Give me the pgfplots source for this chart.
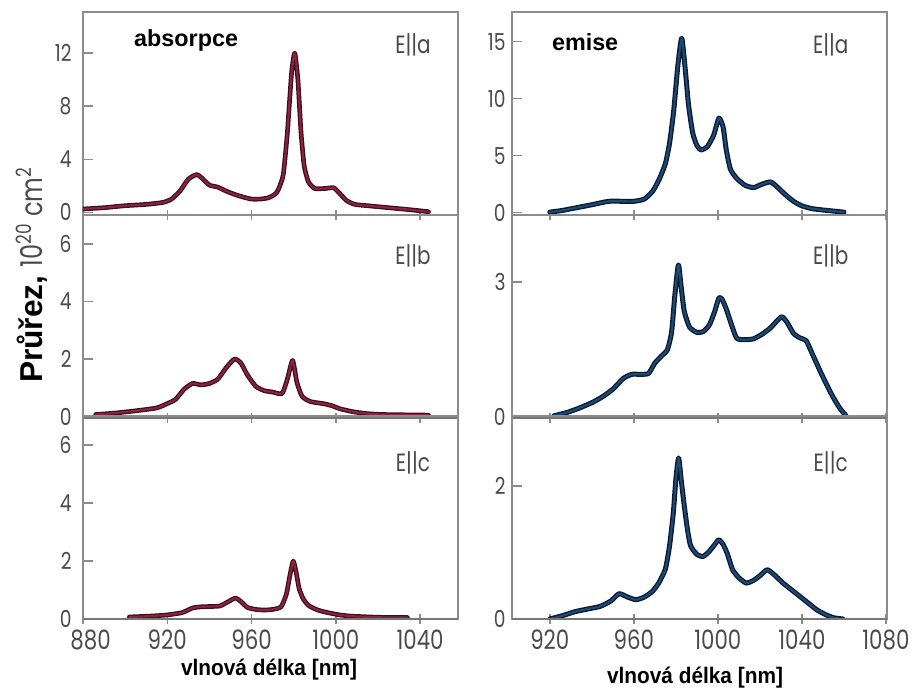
\documentclass[border=0pt]{standalone}
\usepackage{fontspec}
\usepackage{pgfplots}
\usepackage{pgfplotstable}
\pgfplotsset{compat=1.18}
\newfontfamily\lightfont{Poppins}[FakeStretch=0.8]
\newfontfamily\labfont{Liberation Sans}

\definecolor{abscol}{HTML}{8A2240}
\definecolor{absdark}{HTML}{3A0E1C}
\definecolor{emcol}{HTML}{1F4A78}
\definecolor{emdark}{HTML}{0A1B30}
\definecolor{framec}{HTML}{8C8C8C}
\definecolor{ticktext}{HTML}{4A4A4A}

% absorpce
\pgfplotstableread{
x y
880 0.25
890 0.35
900 0.5
910 0.6
918 0.75
922 1.0
926 1.6
930 2.5
934 2.85
937 2.5
940 2.05
944 1.9
948 1.6
952 1.35
956 1.15
960 1.0
964 1.0
968 1.1
972 1.5
975 2.8
977 6.0
979 10.5
980.5 12.0
982 10.0
983.5 6.0
985 3.5
987 2.3
990 1.8
995 1.8
999 1.85
1002 1.4
1005 0.9
1009 0.6
1015 0.5
1025 0.35
1035 0.2
1044 0.05
}\absA
\pgfplotstableread{
x y
886 0.07
895 0.12
905 0.2
915 0.3
920 0.45
924 0.6
928 0.95
932 1.15
936 1.1
940 1.15
944 1.3
948 1.7
952 2.0
955 1.85
958 1.45
962 1.05
966 0.9
970 0.85
974.5 0.8
977 1.3
979.5 1.95
981.5 1.2
984 0.7
988 0.52
994 0.45
998 0.38
1002 0.27
1008 0.17
1015 0.1
1023 0.07
1044 0.05
}\absB
\pgfplotstableread{
x y
902 0.07
912 0.1
920 0.14
927 0.22
932 0.38
936 0.42
940 0.43
945 0.45
949 0.6
952.4 0.72
955 0.6
958 0.4
962 0.33
966 0.31
970 0.33
974 0.42
976.5 0.85
978.2 1.5
979.8 2.0
981.2 1.6
982.6 1.05
984.5 0.7
987 0.47
991 0.32
995 0.24
1001 0.15
1007 0.1
1020 0.06
1034 0.05
}\absC
% emise
\pgfplotstableread{
x y
920 0.05
926 0.2
933 0.45
940 0.7
948 1.0
955 1.0
960 1.0
965 1.2
969 1.9
972 2.9
975 4.3
977 6.1
979 9.0
981 13.0
982.8 15.3
984.5 12.5
986 9.5
988 7.0
990 5.9
992 5.5
995 5.8
998 6.8
1000.5 8.3
1002.5 7.5
1004 5.5
1006 3.8
1009 3.0
1013 2.4
1017 2.2
1021 2.5
1025 2.7
1028 2.3
1032 1.6
1036 1.0
1040 0.6
1045 0.35
1052 0.2
1060 0.05
}\emA
\pgfplotstableread{
x y
922 0.03
928 0.1
934 0.2
940 0.32
945 0.45
950 0.62
955 0.86
959 0.95
963 0.95
967 0.97
970 1.2
973 1.35
976 1.5
978 1.9
979.5 2.7
981.2 3.38
982.5 2.9
984 2.35
986.5 2.0
990 1.88
993 1.9
996 2.05
998.5 2.35
1000.5 2.65
1002 2.62
1004 2.4
1006.5 2.05
1009 1.75
1013 1.72
1017 1.74
1021 1.84
1025 1.98
1028 2.13
1030.5 2.23
1033 2.1
1036 1.86
1039 1.76
1042 1.7
1045 1.4
1048.5 1.04
1052 0.7
1055 0.43
1058 0.2
1061 0.03
}\emB
\pgfplotstableread{
x y
920 0.0
926 0.05
932 0.11
938 0.15
944 0.19
949 0.27
953 0.38
957 0.33
961 0.29
965 0.33
969 0.42
972 0.55
975 0.75
977 1.1
978.8 1.6
980 2.1
981.3 2.42
982.5 2.1
984 1.7
985.5 1.35
987 1.1
990 0.97
993 0.94
996 1.02
998.5 1.12
1000.5 1.19
1002.5 1.12
1004.5 0.98
1007 0.74
1010 0.62
1013.5 0.54
1017 0.58
1020 0.65
1023.5 0.74
1027 0.66
1031 0.54
1035 0.44
1039 0.34
1043 0.24
1047 0.14
1051 0.07
1055 0.02
1059.5 0.0
}\emC

\tikzset{
  etag/.style={font=\fontsize{15}{15}\lightfont, text=ticktext},
  ttag/.style={font=\fontsize{14}{14}\labfont\bfseries},
  xlab/.style={font=\fontsize{12.5}{12.5}\labfont\bfseries, inner sep=1pt},
}
\pgfplotsset{
  panel/.style={
    width=225pt, height=121.8pt, scale only axis,
    anchor=south west,
    axis line style={framec, line width=0.7pt},
    major tick style={framec, line width=0.9pt},
    major tick length=6pt,
    xtick pos=bottom, ytick pos=left,
    xtick align=center, ytick align=inside,
    xticklabel style={font=\fontsize{16}{16}\lightfont, text=ticktext, inner sep=1pt, yshift=-2.2pt},
    yticklabel style={font=\fontsize{14}{14}\lightfont, text=ticktext, inner sep=1pt},
    /pgf/number format/assume math mode=true,
    /pgf/number format/1000 sep={},
    after end axis/.code={\draw[framec!85!black, line width=1.6pt] (rel axis cs:0,0) -- (rel axis cs:1,0);},
  },
  leftp/.style={panel, xmin=880, xmax=1058, xtick={880,920,960,1000,1040},
    yticklabel style={xshift=-5.7pt}},
  rightp/.style={panel, xmin=902, xmax=1080.5, xtick={920,960,1000,1040,1080},
    yticklabel style={xshift=-2.7pt}},
  absouter/.style={absdark, line width=2.8pt, smooth, tension=0.35, line join=round, line cap=round},
  absinner/.style={abscol, line width=1.3pt, smooth, tension=0.35, line join=round, line cap=round},
  emouter/.style={emdark, line width=3.0pt, smooth, tension=0.35, line join=round, line cap=round},
  eminner/.style={emcol, line width=1.3pt, smooth, tension=0.35, line join=round, line cap=round},
}

\begin{document}
\begin{tikzpicture}
\useasboundingbox (0,0) rectangle (549.6pt,413.4pt);

% absorpce
\begin{axis}[leftp, at={(49.8pt,284.4pt)}, ymin=-0.2, ymax=15.1, ytick={0,4,8,12}, xticklabels={}]
\addplot[absouter] table {\absA};
\addplot[absinner] table {\absA};
\node[ttag] at (rel axis cs:0.275,0.86) {absorpce};
\node[etag] at (rel axis cs:0.88,0.84) {E||a};
\end{axis}
\begin{axis}[leftp, at={(49.8pt,162.6pt)}, ymin=-0.05, ymax=7.0, ytick={0,2,4,6}, xticklabels={}]
\addplot[absouter] table {\absB};
\addplot[absinner] table {\absB};
\node[etag] at (rel axis cs:0.88,0.80) {E||b};
\end{axis}
\begin{axis}[leftp, at={(49.8pt,42pt)}, ymin=0, ymax=7.0, ytick={0,2,4,6},
  xticklabels={\hspace{9pt}880,920,960,1000,1040}]
\addplot[absouter] table {\absC};
\addplot[absinner] table {\absC};
\node[etag] at (rel axis cs:0.88,0.77) {E||c};
\end{axis}

% emise
\begin{axis}[rightp, at={(307.2pt,284.4pt)}, ymin=-0.2, ymax=17.6, ytick={0,5,10,15}, xticklabels={}]
\addplot[emouter] table {\emA};
\addplot[eminner] table {\emA};
\node[ttag] at (rel axis cs:0.195,0.85) {emise};
\node[etag] at (rel axis cs:0.85,0.84) {E||a};
\end{axis}
\begin{axis}[rightp, at={(307.2pt,162.6pt)}, ymin=-0.02, ymax=4.49, ytick={0,3}, xticklabels={}]
\addplot[emouter] table {\emB};
\addplot[eminner] table {\emB};
\node[etag] at (rel axis cs:0.85,0.80) {E||b};
\end{axis}
\begin{axis}[rightp, at={(307.2pt,42pt)}, ymin=0, ymax=3.05, ytick={0,2}]
\addplot[emouter] table {\emC};
\addplot[eminner] table {\emC};
\node[etag] at (rel axis cs:0.85,0.77) {E||c};
\end{axis}

\node[xlab] at (161.4pt,11.4pt) {\scalebox{1}[1.08]{vlnová délka [nm]}};
\node[xlab] at (417pt,6.6pt) {\scalebox{1}[1.08]{vlnová délka [nm]}};
\node[rotate=90] at (19pt,248.4pt) {{\fontsize{19}{19}\labfont\bfseries Průřez,}\hspace{5pt}{\fontsize{18}{18}\lightfont\color{ticktext}10\textsuperscript{20}\hspace{4pt}cm\textsuperscript{2}}};
\end{tikzpicture}
\end{document}
